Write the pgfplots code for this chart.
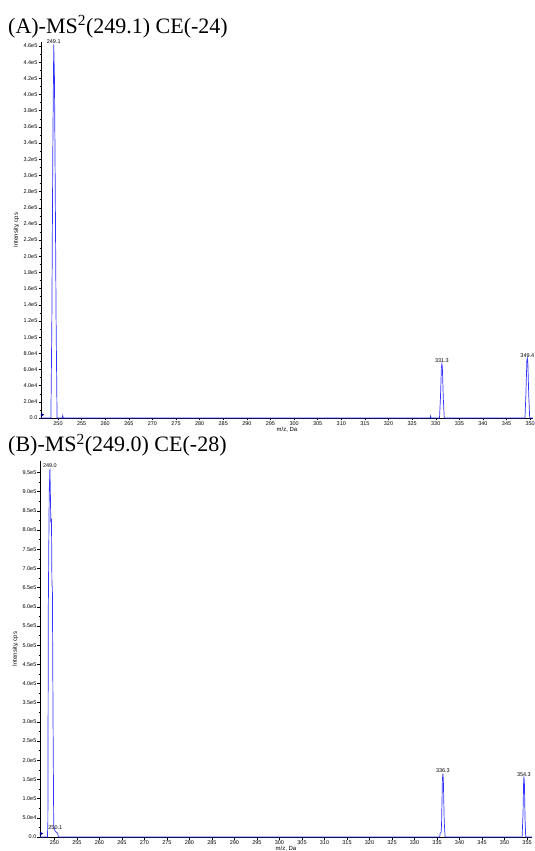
\documentclass[border=0pt]{standalone}
\usepackage{pgfplots}
\pgfplotsset{compat=1.18}
\usepackage{fontspec}
\setmainfont{Liberation Serif}
\newfontfamily\arial{Liberation Sans}
\definecolor{specblue}{RGB}{50,50,255}
\definecolor{marknavy}{RGB}{0,0,140}
\newcommand{\smallsans}{\arial\fontsize{5.5}{6.5}\selectfont}
\newcommand{\labelsans}{\arial\fontsize{6}{7}\selectfont}
\pgfplotsset{ms/.style={
  scale only axis, width=492bp, height=376bp,
  axis x line*=bottom, axis y line*=left,
  axis line style={-, line width=0.6bp},
  every outer x axis line/.append style={-},
  every outer y axis line/.append style={-},
  tick align=outside,
  major tick length=2.5bp, minor tick length=1.4bp,
  every tick/.style={black, line width=0.45bp},
  ymin=0, clip=false,
  scaled y ticks=false, scaled x ticks=false,
  /pgf/number format/assume math mode=true,
  /pgf/number format/set thousands separator={},
  ticklabel style={font=\smallsans, inner sep=1bp},
  label style={font=\labelsans},
  xlabel={m/z, Da}, ylabel={Intensity, cps},
  xlabel style={yshift=2.5bp},
  minor x tick num=4, minor y tick num=1,
}}
\begin{document}
\begin{tikzpicture}
\useasboundingbox (0,0) rectangle (535bp,851bp);
\node[anchor=base west, inner sep=0pt, font=\fontsize{22bp}{26bp}\selectfont] at (8bp,817.7bp) {(A)-MS\textsuperscript{2}(249.1) CE(-24)};
\node[anchor=base west, inner sep=0pt, font=\fontsize{22bp}{26bp}\selectfont] at (8bp,399.3bp) {(B)-MS\textsuperscript{2}(249.0) CE(-28)};

\begin{axis}[ms, at={(41bp,433bp)}, anchor=south west,
  xmin=246.4, xmax=350.6, ymax=4.65e5,
  xtick={250,255,...,350},
  ytick={0,20000,40000,60000,80000,100000,120000,140000,160000,180000,200000,220000,240000,260000,280000,300000,320000,340000,360000,380000,400000,420000,440000,460000},
  yticklabels={0.0,2.0e4,4.0e4,6.0e4,8.0e4,1.0e5,1.2e5,1.4e5,1.6e5,1.8e5,2.0e5,2.2e5,2.4e5,2.6e5,2.8e5,3.0e5,3.2e5,3.4e5,3.6e5,3.8e5,4.0e5,4.2e5,4.4e5,4.6e5},
]
\addplot[specblue, line width=0.7bp] coordinates {
(246.4,0) (248.5,0) (248.7,120000) (248.9,330000) (249.1,462000) (249.25,420000) (249.4,300000) (249.6,120000) (249.8,0)
(250.9,0) (251.0,3000) (251.1,0)
(328.8,0) (328.9,2500) (329.0,0)
(330.8,0) (331.0,25000) (331.2,62000) (331.3,67000) (331.4,63000) (331.6,25000) (331.8,0)
(348.9,0) (349.1,30000) (349.3,71000) (349.4,74000) (349.5,70000) (349.7,28000) (349.9,0) (350.6,0)
};
\addplot[only marks, mark=triangle*, mark size=1.8bp, marknavy, mark options={rotate=-90}] coordinates {(246.6,4000)};
\node[font=\smallsans, anchor=south, inner sep=0.8bp] at (axis cs:249.1,462000) {249.1};
\node[font=\smallsans, anchor=south, inner sep=0.8bp] at (axis cs:331.3,67000) {331.3};
\node[font=\smallsans, anchor=south, inner sep=0.8bp] at (axis cs:349.4,74000) {349.4};
\end{axis}

\begin{axis}[ms, at={(40bp,14bp)}, anchor=south west,
  xmin=246.8, xmax=356.1, ymax=9.8e5,
  xtick={250,255,...,355},
  ytick={0,50000,100000,150000,200000,250000,300000,350000,400000,450000,500000,550000,600000,650000,700000,750000,800000,850000,900000,950000},
  yticklabels={0.0,5.0e4,1.0e5,1.5e5,2.0e5,2.5e5,3.0e5,3.5e5,4.0e5,4.5e5,5.0e5,5.5e5,6.0e5,6.5e5,7.0e5,7.5e5,8.0e5,8.5e5,9.0e5,9.5e5},
]
\addplot[specblue, line width=0.7bp] coordinates {
(246.8,0) (248.45,0) (248.55,40000) (248.65,600000) (248.85,900000) (249.0,960000) (249.1,900000) (249.2,820000) (249.35,830000) (249.45,660000) (249.55,650000) (249.7,300000) (249.85,30000) (250.1,16000) (250.4,13000) (250.7,10000) (250.9,0)
(335.6,0) (335.7,10000) (335.9,12000) (336.0,30000) (336.2,150000) (336.3,165000) (336.4,150000) (336.6,40000) (336.8,0)
(353.9,0) (354.1,60000) (354.25,150000) (354.3,155000) (354.4,145000) (354.55,50000) (354.7,0) (356.1,0)
};
\addplot[only marks, mark=triangle*, mark size=1.8bp, marknavy, mark options={rotate=-90}] coordinates {(247.0,9000)};
\node[font=\smallsans, anchor=south, inner sep=0.8bp] at (axis cs:249.0,960000) {249.0};
\node[font=\smallsans, anchor=south, inner sep=0.8bp] at (axis cs:250.2,16000) {250.1};
\node[font=\smallsans, anchor=south, inner sep=0.8bp] at (axis cs:336.3,165000) {336.3};
\node[font=\smallsans, anchor=south, inner sep=0.8bp] at (axis cs:354.3,155000) {354.3};
\end{axis}
\end{tikzpicture}
\end{document}
